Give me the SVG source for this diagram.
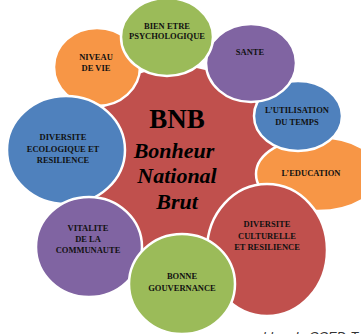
<svg xmlns="http://www.w3.org/2000/svg" width="361" height="334" viewBox="0 0 361 334">
<style>
.c{stroke:#fff;stroke-width:2.5}
.red{fill:#C0504D}.blue{fill:#4F81BD}.green{fill:#9BBB59}.purple{fill:#8064A2}.orange{fill:#F79646}
.t{font-family:"Liberation Serif",serif;font-weight:bold;font-size:8.5px;fill:#111;text-anchor:middle}
.big{font-family:"Liberation Serif",serif;font-weight:bold;fill:#000;text-anchor:middle}
.cap{font-family:"Liberation Sans",sans-serif;font-style:italic;font-size:13px;fill:#333}
</style>
<rect width="361" height="334" fill="#fff"/>
<g id="center">
<ellipse class="c red" cx="178" cy="163" rx="100" ry="98"/>
</g>
<g id="education">
<ellipse class="c orange" cx="318" cy="174" rx="62" ry="37"/>
<text class="t" x="311" y="176">L’EDUCATION</text>
</g>
<g id="utilisation">
<ellipse class="c blue" cx="298" cy="116" rx="44" ry="35"/>
<text class="t" x="297" y="113">L’UTILISATION</text>
<text class="t" x="297" y="125">DU TEMPS</text>
</g>
<g id="niveau">
<ellipse class="c orange" cx="97" cy="67" rx="43" ry="39"/>
<text class="t" x="96" y="60">NIVEAU</text>
<text class="t" x="96" y="71">DE VIE</text>
</g>
<g id="sante">
<ellipse class="c purple" cx="251" cy="63" rx="45" ry="39"/>
<text class="t" x="250" y="55">SANTE</text>
</g>
<g id="bienetre">
<ellipse class="c green" cx="167" cy="37" rx="46" ry="39"/>
<text class="t" x="167" y="29">BIEN ETRE</text>
<text class="t" x="167" y="39">PSYCHOLOGIQUE</text>
</g>
<g id="ecologique">
<ellipse class="c blue" cx="66" cy="150" rx="59" ry="54"/>
<text class="t" x="63" y="140">DIVERSITE</text>
<text class="t" x="63" y="152">ECOLOGIQUE ET</text>
<text class="t" x="63" y="163">RESILIENCE</text>
</g>
<g id="culturelle">
<ellipse class="c red" cx="267" cy="250" rx="60" ry="66"/>
<text class="t" x="267" y="227">DIVERSITE</text>
<text class="t" x="267" y="239">CULTURELLE</text>
<text class="t" x="267" y="250">ET RESILIENCE</text>
</g>
<g id="vitalite">
<ellipse class="c purple" cx="89" cy="247" rx="53" ry="50"/>
<text class="t" x="88" y="231">VITALITE</text>
<text class="t" x="88" y="242">DE LA</text>
<text class="t" x="88" y="253">COMMUNAUTE</text>
</g>
<g id="gouvernance">
<ellipse class="c green" cx="182" cy="284" rx="53" ry="50"/>
<text class="t" x="182" y="279">BONNE</text>
<text class="t" x="182" y="291">GOUVERNANCE</text>
</g>
<g id="title">
<text class="big" x="177" y="128" font-size="27">BNB</text>
<text class="big" x="174" y="158" font-size="22" font-style="italic">Bonheur</text>
<text class="big" x="177" y="183" font-size="22" font-style="italic">National</text>
<text class="big" x="177" y="209" font-size="22" font-style="italic">Brut</text>
</g>
<text class="cap" x="252" y="341">« blog du CCED-Togo</text>
</svg>
